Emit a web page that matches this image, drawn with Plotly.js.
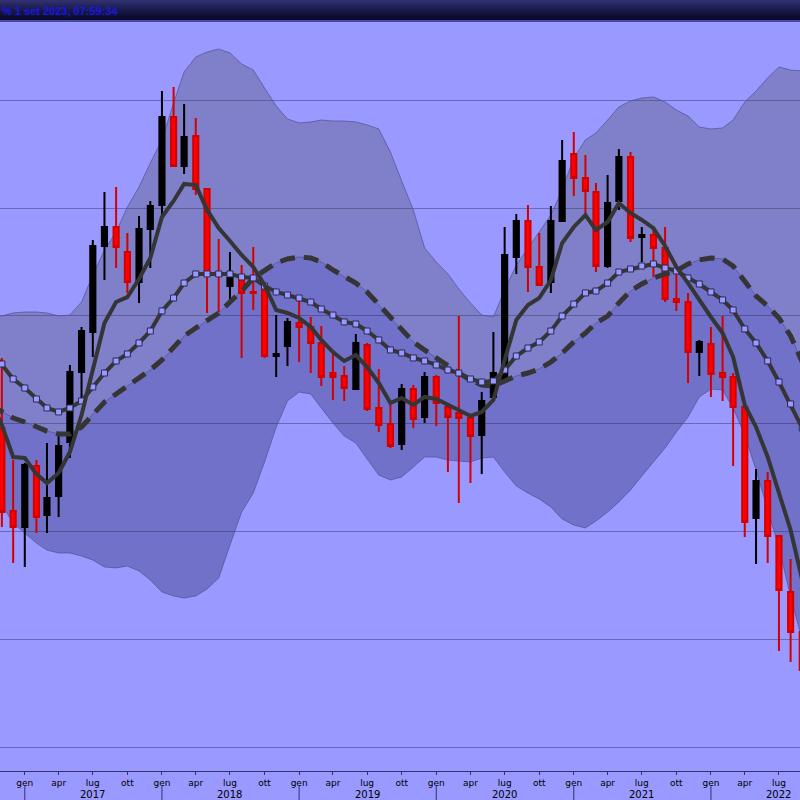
<!DOCTYPE html>
<html>
<head>
<meta charset="utf-8">
<script src="https://cdn.plot.ly/plotly-3.0.1.min.js"></script>
<style>html,body{margin:0;padding:0;background:#9999ff;}#chart{width:800px;height:800px;}</style>
</head>
<body>
<div id="chart"></div>
<script>
// Monthly periods (first of month), Oct 2016 .. Sep 2022
const months = ['2016-10-01','2016-11-01','2016-12-01',
 '2017-01-01','2017-02-01','2017-03-01','2017-04-01','2017-05-01','2017-06-01','2017-07-01','2017-08-01','2017-09-01','2017-10-01','2017-11-01','2017-12-01',
 '2018-01-01','2018-02-01','2018-03-01','2018-04-01','2018-05-01','2018-06-01','2018-07-01','2018-08-01','2018-09-01','2018-10-01','2018-11-01','2018-12-01',
 '2019-01-01','2019-02-01','2019-03-01','2019-04-01','2019-05-01','2019-06-01','2019-07-01','2019-08-01','2019-09-01','2019-10-01','2019-11-01','2019-12-01',
 '2020-01-01','2020-02-01','2020-03-01','2020-04-01','2020-05-01','2020-06-01','2020-07-01','2020-08-01','2020-09-01','2020-10-01','2020-11-01','2020-12-01',
 '2021-01-01','2021-02-01','2021-03-01','2021-04-01','2021-05-01','2021-06-01','2021-07-01','2021-08-01','2021-09-01','2021-10-01','2021-11-01','2021-12-01',
 '2022-01-01','2022-02-01','2022-03-01','2022-04-01','2022-05-01','2022-06-01','2022-07-01','2022-08-01','2022-09-01'];

// Candles: Nov 2016 .. Sep 2022
const candleMonths = months.slice(1);
const open  = [39.59,31.89,30.41,36.07,31.52,33.28,38.29,44.79,48.50,56.48,58.24,55.92,53.14,58.05,60.28,68.44,63.90,66.68,61.76,53.97,52.76,53.60,52.21,52.39,46.27,47.20,49.33,48.96,47.48,44.69,44.42,43.21,47.29,41.45,39.96,38.11,43.21,40.61,44.32,41.54,40.98,40.52,38.94,42.47,44.05,55.46,58.79,54.53,53.14,58.79,65.01,62.78,61.48,54.62,60.65,64.73,57.31,57.50,56.29,51.56,51.28,46.64,47.38,44.69,44.32,41.54,31.24,34.68,29.57,24.38,20.67];
const high  = [46.09,36.62,36.35,36.62,38.20,39.04,45.44,48.96,57.03,61.48,61.95,57.68,59.26,60.65,70.85,71.22,69.65,68.35,61.76,57.12,55.92,54.71,56.38,52.39,50.07,49.80,51.47,49.89,49.05,46.55,45.34,48.31,47.48,45.07,41.73,43.67,43.58,44.79,44.51,41.54,49.98,40.52,42.93,48.50,58.24,59.44,60.28,57.68,60.19,66.31,67.05,64.92,62.32,63.06,65.47,65.19,58.24,58.24,58.24,53.88,52.12,47.76,48.96,49.98,44.69,41.54,35.79,35.51,29.57,27.44,20.76];
const low   = [30.41,27.07,26.70,29.85,29.85,31.34,36.81,42.19,46.18,53.32,54.43,52.12,51.19,54.43,59.35,63.90,63.15,61.21,50.26,50.35,51.47,46.09,50.54,46.09,44.32,45.34,45.71,44.69,43.49,42.19,42.10,43.21,41.17,39.22,37.74,37.55,39.59,40.06,39.78,35.51,32.64,34.49,35.32,42.38,43.77,53.88,52.21,52.76,52.12,58.70,61.11,59.54,54.06,54.43,59.82,56.85,54.99,53.60,51.28,50.45,43.77,44.42,42.47,42.10,36.07,29.48,26.98,27.07,18.91,17.89,15.94];
const close = [31.80,30.41,36.16,31.34,33.10,37.92,44.79,48.59,56.48,58.24,56.38,53.14,58.05,60.19,68.44,63.90,66.59,61.76,53.97,53.69,53.51,52.12,52.12,46.27,46.46,49.43,48.96,47.48,44.32,44.32,43.30,47.48,41.35,39.87,37.92,43.21,40.43,44.32,41.91,40.61,40.52,38.85,42.10,44.69,55.64,58.79,54.53,52.86,58.79,64.36,62.78,61.58,54.62,60.46,64.73,57.22,57.50,56.29,51.56,51.28,46.64,47.57,44.60,44.32,41.54,30.87,34.68,29.57,24.56,20.67,17.14];

// Indicator lines, Oct 2016 .. Sep 2022
const fastAvg = [42.19,39.87,36.90,36.81,35.32,34.49,35.42,37.37,40.80,45.16,49.33,51.28,51.74,53.41,55.36,59.17,60.65,62.23,62.13,59.82,58.14,56.94,55.64,54.53,52.86,50.54,50.26,49.80,48.96,47.76,46.64,45.81,46.36,45.25,43.77,41.91,42.38,41.73,42.47,42.28,41.73,41.26,40.71,41.08,42.19,45.90,49.61,51.00,51.65,53.32,56.75,58.24,59.35,57.96,58.70,60.46,59.54,58.89,58.14,56.48,54.53,53.04,51.47,49.89,48.40,46.18,41.73,39.68,36.90,33.56,30.13,25.49];
const midAvg  = [46.83,45.53,44.14,43.30,42.28,41.45,41.08,41.45,42.10,43.40,44.69,45.81,46.46,47.48,48.59,50.45,51.65,53.04,53.88,53.88,53.88,53.88,53.60,53.51,52.76,52.21,51.93,51.65,51.28,50.63,50.07,49.43,49.24,48.59,47.76,46.83,46.55,46.09,45.81,45.44,44.97,44.69,44.14,43.86,43.95,44.97,46.27,47.01,47.57,48.59,49.98,51.09,52.12,52.30,53.04,54.06,54.34,54.62,54.81,54.43,54.16,53.51,52.95,52.21,51.47,50.54,48.78,47.48,45.81,43.86,41.82,39.59];
const slowAvg = [41.73,41.08,40.52,40.15,39.68,39.31,39.04,39.04,39.68,40.89,42.00,42.75,43.49,44.23,44.97,45.90,47.01,48.13,48.87,49.52,50.26,51.28,52.30,53.51,54.25,54.90,55.27,55.46,55.36,54.99,54.25,53.60,53.04,52.21,51.00,49.80,48.68,47.57,46.83,46.09,45.34,44.69,44.05,43.58,43.49,43.95,44.42,44.69,45.07,45.71,46.55,47.57,48.40,49.33,49.98,51.19,52.30,52.95,53.51,53.88,54.16,54.81,55.18,55.36,55.27,54.62,53.23,51.84,50.91,49.80,48.13,45.71];
const upperBand = [49.89,49.98,50.26,50.35,50.35,50.26,49.98,50.07,51.28,53.79,56.10,57.77,60.09,61.95,64.17,66.31,69.74,72.62,74.01,74.47,74.75,74.38,73.36,72.80,71.13,69.46,68.26,67.89,67.98,68.16,68.07,68.07,67.98,67.70,67.33,65.19,62.50,59.82,56.29,54.99,53.88,52.49,51.19,50.07,49.89,52.39,54.71,56.29,57.77,59.35,61.67,64.64,66.31,66.96,68.16,69.37,69.93,70.20,70.30,69.83,69.09,68.53,67.51,67.33,67.42,68.16,69.83,70.85,72.06,73.08,72.80,72.71];
const lowerBand = [33.38,32.45,30.78,29.85,28.92,28.27,28.00,28.00,27.72,27.35,26.70,26.61,26.79,26.33,25.49,24.38,24.01,23.82,24.01,24.66,25.68,28.74,31.80,33.56,36.44,39.68,42.10,42.93,42.75,41.45,40.06,38.85,38.20,36.72,35.23,34.77,35.05,35.97,36.90,36.90,36.62,36.53,36.44,36.81,36.90,35.51,34.21,33.56,33.01,32.26,31.15,30.59,30.32,30.97,31.80,32.73,33.84,35.14,36.44,37.74,39.22,40.61,42.47,43.21,43.12,41.45,38.94,35.70,31.99,28.55,23.92,19.93];

// Axis labels
const quarterTicks = ['2017-01-01','2017-04-01','2017-07-01','2017-10-01','2018-01-01','2018-04-01','2018-07-01','2018-10-01','2019-01-01','2019-04-01','2019-07-01','2019-10-01','2020-01-01','2020-04-01','2020-07-01','2020-10-01','2021-01-01','2021-04-01','2021-07-01','2021-10-01','2022-01-01','2022-04-01','2022-07-01'];
const quarterLabels = ['gen','apr','lug','ott','gen','apr','lug','ott','gen','apr','lug','ott','gen','apr','lug','ott','gen','apr','lug','ott','gen','apr','lug'];
const years = ['2017','2018','2019','2020','2021','2022'];
const gridValues = [10,20,30,40,50,60,70];
const stamp = '% 1 set 2023, 07:59:34';

const xRange = ['2016-10-27','2022-08-26'];
const yRange = [7.774, 77.254];

const bandEdge = 'rgba(80,80,150,0.7)';
const traces = [
  {x: months, y: upperBand, type:'scatter', mode:'lines', line:{color:bandEdge, width:1}, xaxis:'x', yaxis:'y', hoverinfo:'skip'},
  {x: months, y: slowAvg, type:'scatter', mode:'lines', line:{color:bandEdge, width:1}, fill:'tonexty', fillcolor:'rgba(70,70,80,0.3)', xaxis:'x', yaxis:'y', hoverinfo:'skip'},
  {x: months, y: lowerBand, type:'scatter', mode:'lines', line:{color:bandEdge, width:1}, fill:'tonexty', fillcolor:'rgba(40,40,100,0.35)', xaxis:'x', yaxis:'y', hoverinfo:'skip'},
  {x: candleMonths, open: open, high: high, low: low, close: close, type:'candlestick', xaxis:'x2', yaxis:'y2',
   increasing:{line:{color:'#000000', width:2}, fillcolor:'#000000'},
   decreasing:{line:{color:'#d40000', width:2}, fillcolor:'#ff0000'},
   whiskerwidth:0, hoverinfo:'skip'},
  {x: months, y: slowAvg, type:'scatter', mode:'lines', line:{color:'#353535', width:5, dash:'15px,9px'}, xaxis:'x2', yaxis:'y2', hoverinfo:'skip'},
  {x: months, y: midAvg, type:'scatter', mode:'lines+markers', line:{color:'#353535', width:4},
   marker:{symbol:'square', size:6, color:'#9999ff', line:{color:'#2a2a50', width:1}}, xaxis:'x2', yaxis:'y2', hoverinfo:'skip'},
  {x: months, y: fastAvg, type:'scatter', mode:'lines', line:{color:'#353535', width:4}, xaxis:'x2', yaxis:'y2', hoverinfo:'skip'}
];

// title bar gradient strips
const barColors = ['#30306e','#2a2a66','#25255e','#202056','#1c1c4e','#181846','#14143e','#101036','#0c0c30','#0a0a2c'];
const shapes = [];
const pxToPaper = p => (771 - p) / 749;
barColors.forEach((c, i) => {
  shapes.push({type:'rect', xref:'paper', yref:'paper', x0:0, x1:1, y0:pxToPaper(2*i+2), y1:pxToPaper(2*i), fillcolor:c, line:{width:0}, layer:'above'});
});
shapes.push({type:'rect', xref:'paper', yref:'paper', x0:0, x1:1, y0:pxToPaper(22), y1:pxToPaper(20), fillcolor:'#4a4a9a', line:{width:0}, layer:'above'});
years.forEach(yr => {
  shapes.push({type:'line', xref:'x', yref:'paper', x0:yr+'-01-01', x1:yr+'-01-01', y0:pxToPaper(786), y1:pxToPaper(800), line:{color:'#33336a', width:1}});
});

const annotations = [{text: stamp, xref:'paper', yref:'paper', x:0, y:pxToPaper(11), xanchor:'left', yanchor:'middle', showarrow:false,
  font:{family:'Liberation Sans, Arial, sans-serif', size:11, color:'#1818e0', weight:'bold'}}];
years.forEach(yr => {
  annotations.push({text: yr, xref:'x', yref:'paper', x: yr+'-07-01', y: pxToPaper(794), xanchor:'center', yanchor:'middle', showarrow:false,
    font:{family:'DejaVu Sans, sans-serif', size:10, color:'#000000'}});
});

const layout = {
  width:800, height:800,
  margin:{l:0, r:0, t:22, b:29, pad:0},
  paper_bgcolor:'#9999ff', plot_bgcolor:'#9999ff',
  showlegend:false, hovermode:false,
  boxgap:0.3,
  font:{family:'DejaVu Sans, sans-serif', size:9, color:'#000'},
  xaxis:{type:'date', range:xRange, tickmode:'array', tickvals:quarterTicks, ticktext:quarterLabels,
    ticks:'outside', ticklen:3, tickcolor:'#33336a', showline:true, linecolor:'#33336a', linewidth:1,
    showgrid:false, zeroline:false, rangeslider:{visible:false}, tickfont:{family:'DejaVu Sans, sans-serif', size:9, color:'#000'}},
  yaxis:{range:yRange, tickmode:'array', tickvals:gridValues, showticklabels:false, ticks:'', showline:false,
    showgrid:true, gridcolor:'rgb(105,105,185)', gridwidth:1, zeroline:false},
  xaxis2:{type:'date', range:xRange, overlaying:'x', anchor:'y2', visible:false, rangeslider:{visible:false}, showgrid:false},
  yaxis2:{range:yRange, overlaying:'y', anchor:'x2', visible:false, showgrid:false},
  shapes: shapes,
  annotations: annotations
};

Plotly.newPlot('chart', traces, layout, {displayModeBar:false, staticPlot:true});
</script>
</body>
</html>
